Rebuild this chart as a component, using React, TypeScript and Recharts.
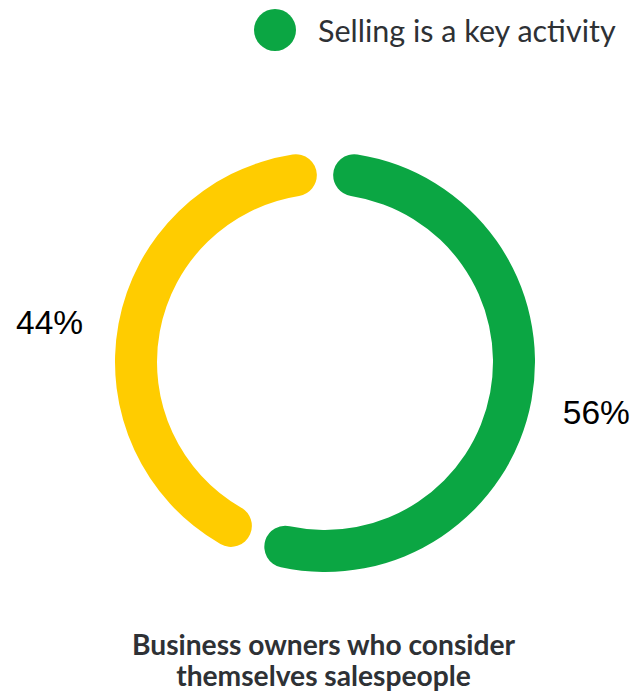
import React from 'react';
import { PieChart, Pie, Cell, Legend } from 'recharts';

const categories = ['Selling is a key activity', 'Other'];
const values = [56, 44];
const labels = ['56%', '44%'];
const colors = ['#0ba643', '#ffcc00'];
const title = ['Business owners who consider', 'themselves salespeople'];

const data = categories.map((name, i) => ({ name, value: values[i], label: labels[i] }));

// style-only nudges for label placement
const labelDy = [0, 11];
const labelDx = [0, -4];

const RAD = Math.PI / 180;

const renderLabel = (props: any) => {
  const { cx, cy, midAngle, outerRadius, index } = props;
  const r = outerRadius + 66;
  const x = cx + r * Math.cos(-midAngle * RAD) + labelDx[index];
  const y = cy + r * Math.sin(-midAngle * RAD) + labelDy[index];
  return (
    <text
      x={x}
      y={y}
      textAnchor="middle"
      dominantBaseline="central"
      fill="#000"
      fontSize={33.5}
      fontFamily="'Liberation Sans', Arial, sans-serif"
    >
      {data[index].label}
    </text>
  );
};

const renderLegend = (props: any) => {
  const item = (props.payload || [])[0];
  if (!item) return null;
  return (
    <div style={{ display: 'flex', alignItems: 'center' }}>
      <svg width={42} height={42} style={{ marginRight: 22 }}>
        <circle cx={21} cy={21} r={21} fill={colors[0]} />
      </svg>
      <span style={{ fontSize: 30.5, color: '#2e3135', fontFamily: "Lato, 'Noto Sans', sans-serif" }}>
        {categories[0]}
      </span>
    </div>
  );
};

export default function App() {
  return (
    <div style={{ position: 'absolute', left: 0, top: 0, width: 635, height: 698, background: '#fff' }}>
      <PieChart width={635} height={698}>
        <Pie
          data={data}
          dataKey="value"
          nameKey="name"
          cx={320}
          cy={357}
          innerRadius={168}
          outerRadius={210}
          startAngle={87.5}
          endAngle={-272.5}
          paddingAngle={5}
          cornerRadius={21}
          stroke="none"
          label={renderLabel}
          labelLine={false}
          isAnimationActive={false}
        >
          {data.map((d, i) => (
            <Cell key={d.name} fill={colors[i]} />
          ))}
        </Pie>
        <Legend
          content={renderLegend}
          wrapperStyle={{ position: 'absolute', top: 9, left: 254, width: 'auto' }}
        />
      </PieChart>
      <div
        style={{
          position: 'absolute',
          left: 0,
          top: 629,
          width: 647,
          textAlign: 'center',
          fontFamily: "Lato, 'Noto Sans', sans-serif",
          fontWeight: 700,
          fontSize: 28.2,
          lineHeight: '31px',
          color: '#2e3135',
        }}
      >
        {title.map((t) => (
          <div key={t}>{t}</div>
        ))}
      </div>
    </div>
  );
}
